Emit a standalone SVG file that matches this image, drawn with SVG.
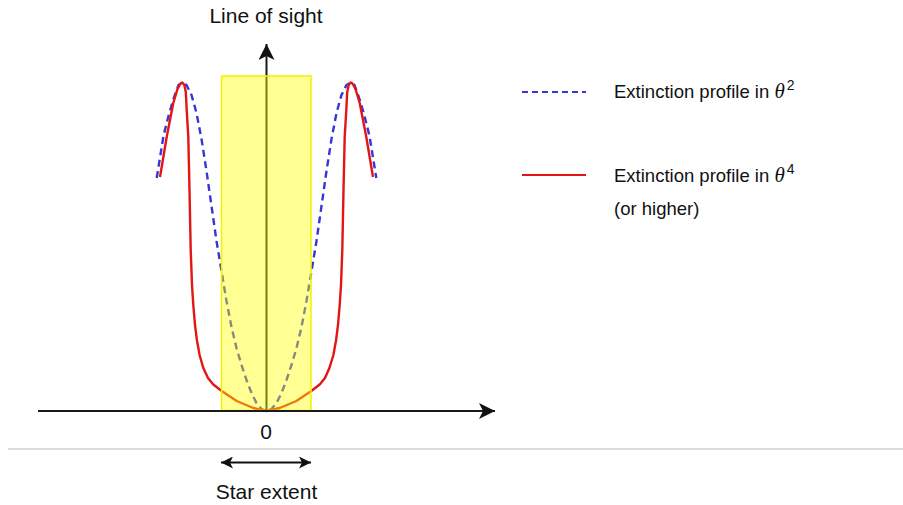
<svg xmlns="http://www.w3.org/2000/svg" width="903" height="505" viewBox="0 0 903 505">
<style>
text{font-family:"Liberation Sans",Arial,sans-serif;fill:#111;font-size:18.5px}
.big{font-size:21px}
.th{font-family:"Liberation Serif","Times New Roman",serif;font-style:italic}
.axis{stroke:#1a1a1a;stroke-width:2;fill:none}
.blue{stroke:#3535d8;stroke-width:2.4;fill:none;stroke-dasharray:7 4.5}
.red{stroke:#e31515;stroke-width:2.4;fill:none;stroke-linejoin:round}
</style>
<defs>
<marker id="ah" markerWidth="18" markerHeight="16" refX="16" refY="8" orient="auto-start-reverse" markerUnits="userSpaceOnUse">
<path d="M16,8 L0,0 L4,8 L0,16 Z" fill="#111"/>
</marker>
<marker id="ahs" markerWidth="14" markerHeight="12" refX="12" refY="6" orient="auto-start-reverse" markerUnits="userSpaceOnUse">
<path d="M12,6 L0,0 L3,6 L0,12 Z" fill="#111"/>
</marker>
</defs>
<line x1="8" y1="449" x2="903" y2="449" stroke="#cfcfcf" stroke-width="1.3"/>
<g id="curves">
<polyline class="blue" points="156.7,178 163.5,136 168.5,116 173.5,99 178.5,85 182.5,82.5 186.5,85 191.5,95 196.5,113 201.5,139 206.5,171 211.5,206 216.5,241 221.5,271 226.5,301 231.5,327 236.5,348 241.5,365 246.5,380 251.5,393 256.5,403 261.5,409 266.5,411 271.5,409 276.5,403 281.5,393 286.5,380 291.5,365 296.5,348 301.5,327 306.5,301 311.5,271 316.5,241 321.5,206 326.5,171 331.5,139 336.5,113 341.5,95 346.5,85 350.5,82.5 354.5,85 359.5,99 364.5,116 369.5,136 376.3,178"/>
<polyline class="red" points="160,177 166.7,137 173.3,103 177.5,89 180.5,83.5 182.3,82.5 184.3,85 185.8,92 186.7,110 188.3,137 189.5,190 190.7,250 192,285 193.3,305 195,325 196.9,340 199.6,355 203.3,368 208,378 213.3,384.5 221.7,391 236.7,401 253.3,408 266.5,411 279.7,408 296.3,401 311.3,391 319.7,384.5 325,378 329.4,368 333.4,355 336.1,340 338,325 339.7,305 341,285 342.3,250 343.5,190 344.7,137 346.3,110 347.2,92 348.7,85 350.7,82.5 352.5,83.5 355.5,89 359.7,103 366.3,137 373,177"/>
</g>
<g id="axes">
<line class="axis" x1="266.5" y1="411" x2="266.5" y2="44" marker-end="url(#ah)"/>
</g>
<g id="star">
<rect x="221.5" y="76" width="89.5" height="334.5" fill="#ffff00" fill-opacity="0.42" stroke="#f2f200" stroke-width="1.5"/>
</g>
<g id="haxis">
<line class="axis" x1="38" y1="411" x2="495" y2="411" marker-end="url(#ah)"/>
</g>
<g id="extent">
<line x1="221" y1="462.5" x2="311" y2="462.5" stroke="#111" stroke-width="2.2" marker-start="url(#ahs)" marker-end="url(#ahs)"/>
</g>
<g id="labels">
<text class="big" x="266" y="22.7" text-anchor="middle">Line of sight</text>
<text class="big" x="266" y="438.5" text-anchor="middle">0</text>
<text class="big" x="266.5" y="499" text-anchor="middle">Star extent</text>
</g>
<g id="legend">
<line class="blue" x1="522" y1="92" x2="586" y2="92" style="stroke-width:2;stroke-dasharray:6 4"/>
<line class="red" x1="522" y1="175" x2="586" y2="175" style="stroke-width:2"/>
<text x="614" y="97.5">Extinction profile in <tspan class="th" font-size="21">θ</tspan><tspan font-size="14" dy="-8" dx="2">2</tspan></text>
<text x="614" y="182.3">Extinction profile in <tspan class="th" font-size="21">θ</tspan><tspan font-size="14" dy="-8" dx="2">4</tspan></text>
<text x="614" y="214.5">(or higher)</text>
</g>
</svg>
